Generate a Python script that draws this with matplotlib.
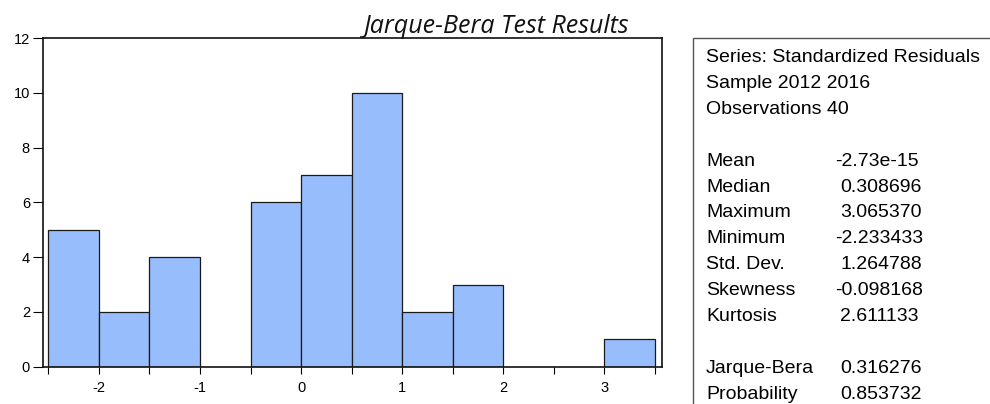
import matplotlib
matplotlib.use("Agg")
import matplotlib.pyplot as plt
from matplotlib.patches import Rectangle

# histogram of standardized residuals (bin width 0.5)
bin_left = [-2.5, -2.0, -1.5, -1.0, -0.5, 0.0, 0.5, 1.0, 1.5, 2.0, 2.5, 3.0]
counts = [5, 2, 4, 0, 6, 7, 10, 2, 3, 0, 0, 1]
bin_width = 0.5

title = "Jarque-Bera Test Results"
header_lines = ["Series: Standardized Residuals", "Sample 2012 2016", "Observations 40"]
stat_names = ["Mean", "Median", "Maximum", "Minimum", "Std. Dev.", "Skewness", "Kurtosis"]
stat_values = ["-2.73e-15", "0.308696", "3.065370", "-2.233433", "1.264788", "-0.098168", "2.611133"]
test_names = ["Jarque-Bera", "Probability"]
test_values = ["0.316276", "0.853732"]

plt.rcParams['font.family'] = ['Liberation Sans', 'DejaVu Sans']
plt.rcParams['axes.unicode_minus'] = False
fs = 14
bar_color = "#98bdfd"

fig = plt.figure(figsize=(9.9, 4.04), dpi=100)
ax = fig.add_axes([42.5/990, 1-366.7/404, (662-42.5)/990, (366.7-38)/404])

x = [b for b, c in zip(bin_left, counts) if c > 0]
h = [c for c in counts if c > 0]
ax.bar(x, h, width=bin_width, align="edge", color=bar_color, edgecolor="#1a1a1a", linewidth=0.9)

ax.set_xlim(-2.557, 3.569)
ax.set_ylim(0, 12)
ax.set_yticks(range(0, 13, 2))
ax.set_xticks([-2, -1, 0, 1, 2, 3])
ax.set_xticks([-2.5, -1.5, -0.5, 0.5, 1.5, 2.5, 3.5], minor=True)
ax.tick_params(axis="both", direction="out", width=0.8, labelsize=10.5)
ax.tick_params(axis="y", length=7, pad=2)
ax.tick_params(axis="x", which="both", length=5, width=0.8, pad=5)
for s in ax.spines.values():
    s.set_linewidth(1.2)
    s.set_color("#111111")

fig.text(497/990, 1-33/404, title, ha="center", va="baseline", fontsize=18,
         family=["Open Sans", "DejaVu Sans"], style="italic", color="#111111")

# statistics box
fig.patches.append(Rectangle((693/990, -0.1), 0.5, 1.1 - 38/404, transform=fig.transFigure,
                             fill=False, edgecolor="#555555", linewidth=1.0))

y0 = 62
dy = 25.9
lines = [(t, None) for t in header_lines] + [("", None)] + \
        list(zip(stat_names, stat_values)) + [("", None)] + list(zip(test_names, test_values))
for i, (name, val) in enumerate(lines):
    yy = 1 - (y0 + i * dy) / 404
    fig.text(706/990, yy, name, ha="left", va="baseline", fontsize=fs)
    if val is not None:
        xv = 835 if val.startswith("-") else 840
        fig.text(xv/990, yy, val, ha="left", va="baseline", fontsize=fs)

fig.savefig("out.png", dpi=100)
